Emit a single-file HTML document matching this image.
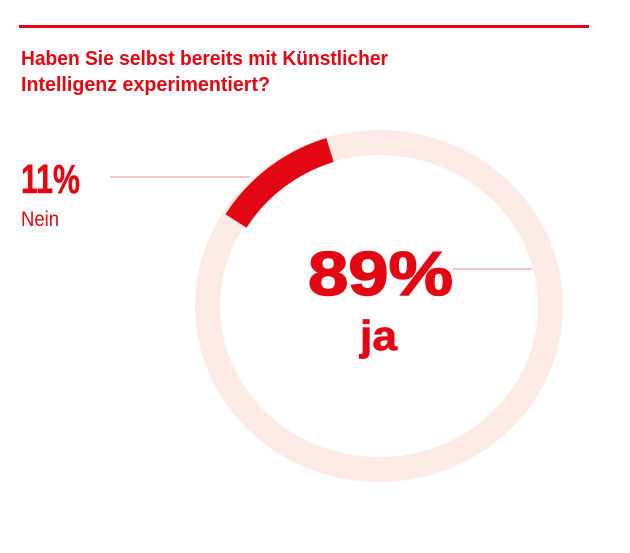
<!DOCTYPE html>
<html><head><meta charset="utf-8"><style>
html,body{margin:0;padding:0;background:#fff;}
svg{display:block;}
text{font-family:"Liberation Sans",sans-serif;fill:#e30613;}
</style></head><body>
<svg width="630" height="553" viewBox="0 0 630 553" xmlns="http://www.w3.org/2000/svg">
<rect x="19" y="25" width="570" height="3" fill="#e30613"/>
<text x="21" y="65" font-size="20.5" font-weight="bold" textLength="367" lengthAdjust="spacingAndGlyphs">Haben Sie selbst bereits mit Künstlicher</text>
<text x="21" y="91" font-size="20.5" font-weight="bold" textLength="249" lengthAdjust="spacingAndGlyphs">Intelligenz experimentiert?</text>
<ellipse cx="379" cy="306" rx="171.5" ry="163.5" fill="none" stroke="#fcebe4" stroke-width="25"/>
<path d="M 330,150 A 171.5 163.5 0 0 0 236,221" fill="none" stroke="#e30613" stroke-width="25"/>
<line x1="110" y1="177" x2="250" y2="177" stroke="#ef8a90" stroke-width="1"/>
<line x1="453" y1="269" x2="532" y2="269" stroke="#ef8a90" stroke-width="1"/>
<text x="21" y="193" font-size="41" font-weight="bold" stroke="#e30613" stroke-width="0.6" textLength="59" lengthAdjust="spacingAndGlyphs">11%</text>
<text x="21" y="226" font-size="21" textLength="38" lengthAdjust="spacingAndGlyphs">Nein</text>
<text x="308" y="295" font-size="62" font-weight="bold" stroke="#e30613" stroke-width="1.5" textLength="145" lengthAdjust="spacingAndGlyphs">89%</text>
<text x="360" y="350" font-size="42" font-weight="bold" stroke="#e30613" stroke-width="0.8" textLength="37" lengthAdjust="spacingAndGlyphs">ja</text>
</svg>
</body></html>
